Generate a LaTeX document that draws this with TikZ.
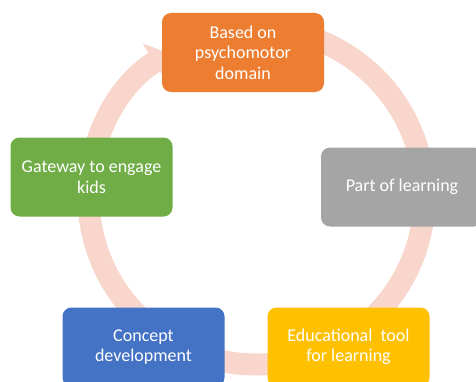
\documentclass[tikz,border=0pt]{standalone}
\usepackage{fontspec}
\setmainfont{Carlito}
\usetikzlibrary{arrows.meta}
\definecolor{orangebox}{HTML}{ED7D31}
\definecolor{greenbox}{HTML}{70AD47}
\definecolor{graybox}{HTML}{A5A5A5}
\definecolor{bluebox}{HTML}{4472C4}
\definecolor{yellowbox}{HTML}{FFC000}
\definecolor{ringpink}{RGB}{248,214,204}

\begin{document}
\begin{tikzpicture}[
                x=1pt, y=1pt,
                stage/.style={rectangle,rounded corners=9pt,minimum width=162pt,minimum height=79pt,text=white,align=center,font=\fontsize{18}{20.5}\selectfont},
                ringarrow/.style={draw=ringpink,line width=22pt},
            ]
            \useasboundingbox (0,0) rectangle (476,381);
            \clip (0,0) rectangle (476,381);

            % Ring centre
            \coordinate (O) at (256.5,184.5);

            % Draw cycle arrow
            \draw[ringarrow,-{Triangle[length=17pt,width=43pt]}] (O) ++(95:168) arc[start angle=95,end angle=-238.5,radius=168];

            % Define nodes
            \node[stage,fill=orangebox] (S0) at (243,328.5) {Based on\\psychomotor\\domain};
            \node[stage,fill=graybox] (S1) at (402,194) {Part of learning};
            \node[stage,fill=yellowbox] (S2) at (348.5,34) {Educational~~tool\\for learning};
            \node[stage,fill=bluebox] (S3) at (143.5,34) {Concept\\development};
            \node[stage,fill=greenbox] (S4) at (91.5,204) {Gateway to engage\\kids};

            \end{tikzpicture}
\end{document}
